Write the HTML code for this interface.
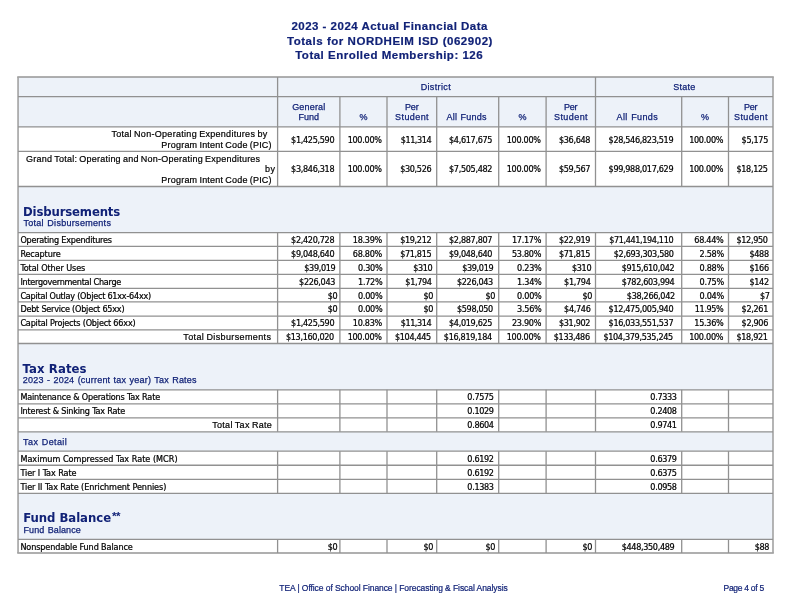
<!DOCTYPE html>
<html lang="en"><head><meta charset="utf-8"><title>2023 - 2024 Actual Financial Data - NORDHEIM ISD</title>
<style>
html,body{margin:0;padding:0;background:#fff;}
body{width:792px;height:612px;overflow:hidden;font-family:"Liberation Sans",sans-serif;}
svg{display:block;}
text{white-space:pre;}
.ttl{font:bold 11.5px "Liberation Sans",sans-serif;fill:#112277;stroke:#112277;stroke-width:0.2px;}
.hd{font:9px "Liberation Sans",sans-serif;fill:#112277;stroke:#112277;stroke-width:0.25px;}
.lb{font:9px "Liberation Sans",sans-serif;fill:#000;stroke:#000;stroke-width:0.2px;}
.sh{font:bold condensed 13px "DejaVu Sans Condensed","DejaVu Sans",sans-serif;fill:#112277;}
.dt{font:condensed 9px "DejaVu Sans Condensed","DejaVu Sans",sans-serif;fill:#000;stroke:#000;stroke-width:0.22px;}
.ast{font:bold 11.5px "Liberation Sans",sans-serif;fill:#112277;letter-spacing:-0.4px;}
.ft{font:8.5px "Liberation Sans",sans-serif;fill:#112277;stroke:#112277;stroke-width:0.2px;}
.ft2{font:8.5px "Liberation Sans",sans-serif;fill:#112277;stroke:#112277;stroke-width:0.2px;}
</style></head>
<body>
<svg width="792" height="612" viewBox="0 0 792 612">
<rect x="18.05" y="77.05" width="754.95" height="49.90" fill="#edf2f9"/>
<rect x="18.05" y="186.50" width="754.95" height="46.10" fill="#edf2f9"/>
<rect x="18.05" y="343.50" width="754.95" height="46.35" fill="#edf2f9"/>
<rect x="18.05" y="431.80" width="754.95" height="19.35" fill="#edf2f9"/>
<rect x="18.05" y="493.30" width="754.95" height="46.00" fill="#edf2f9"/>
<g stroke="#949494" fill="none">
<line x1="17.25" y1="77.05" x2="773.80" y2="77.05" stroke-width="1.6"/>
<line x1="17.25" y1="553.00" x2="773.80" y2="553.00" stroke-width="1.6"/>
</g>
<g stroke="#a2a2a2" fill="none">
<line x1="18.05" y1="77.05" x2="18.05" y2="553.00" stroke-width="1.6"/>
<line x1="773.00" y1="77.05" x2="773.00" y2="553.00" stroke-width="1.6"/>
</g>
<g stroke="#919191" fill="none">
<line x1="18.05" y1="96.70" x2="773.00" y2="96.70" stroke-width="1.3"/>
<line x1="18.05" y1="126.95" x2="773.00" y2="126.95" stroke-width="1.3"/>
<line x1="277.60" y1="77.05" x2="277.60" y2="96.70" stroke-width="1.3"/>
<line x1="595.50" y1="77.05" x2="595.50" y2="96.70" stroke-width="1.3"/>
<line x1="277.60" y1="96.70" x2="277.60" y2="186.50" stroke-width="1.3"/>
<line x1="339.90" y1="96.70" x2="339.90" y2="186.50" stroke-width="1.3"/>
<line x1="387.00" y1="96.70" x2="387.00" y2="186.50" stroke-width="1.3"/>
<line x1="436.70" y1="96.70" x2="436.70" y2="186.50" stroke-width="1.3"/>
<line x1="498.70" y1="96.70" x2="498.70" y2="186.50" stroke-width="1.3"/>
<line x1="546.10" y1="96.70" x2="546.10" y2="186.50" stroke-width="1.3"/>
<line x1="595.50" y1="96.70" x2="595.50" y2="186.50" stroke-width="1.3"/>
<line x1="681.70" y1="96.70" x2="681.70" y2="186.50" stroke-width="1.3"/>
<line x1="728.50" y1="96.70" x2="728.50" y2="186.50" stroke-width="1.3"/>
<line x1="18.05" y1="151.45" x2="773.00" y2="151.45" stroke-width="1.3"/>
<line x1="18.05" y1="186.50" x2="773.00" y2="186.50" stroke-width="1.3"/>
<line x1="18.05" y1="232.60" x2="773.00" y2="232.60" stroke-width="1.3"/>
<line x1="18.05" y1="246.40" x2="773.00" y2="246.40" stroke-width="1.3"/>
<line x1="18.05" y1="260.35" x2="773.00" y2="260.35" stroke-width="1.3"/>
<line x1="18.05" y1="274.45" x2="773.00" y2="274.45" stroke-width="1.3"/>
<line x1="18.05" y1="288.35" x2="773.00" y2="288.35" stroke-width="1.3"/>
<line x1="18.05" y1="301.90" x2="773.00" y2="301.90" stroke-width="1.3"/>
<line x1="18.05" y1="316.10" x2="773.00" y2="316.10" stroke-width="1.3"/>
<line x1="18.05" y1="329.80" x2="773.00" y2="329.80" stroke-width="1.3"/>
<line x1="18.05" y1="343.50" x2="773.00" y2="343.50" stroke-width="1.3"/>
<line x1="277.60" y1="232.60" x2="277.60" y2="343.50" stroke-width="1.3"/>
<line x1="339.90" y1="232.60" x2="339.90" y2="343.50" stroke-width="1.3"/>
<line x1="387.00" y1="232.60" x2="387.00" y2="343.50" stroke-width="1.3"/>
<line x1="436.70" y1="232.60" x2="436.70" y2="343.50" stroke-width="1.3"/>
<line x1="498.70" y1="232.60" x2="498.70" y2="343.50" stroke-width="1.3"/>
<line x1="546.10" y1="232.60" x2="546.10" y2="343.50" stroke-width="1.3"/>
<line x1="595.50" y1="232.60" x2="595.50" y2="343.50" stroke-width="1.3"/>
<line x1="681.70" y1="232.60" x2="681.70" y2="343.50" stroke-width="1.3"/>
<line x1="728.50" y1="232.60" x2="728.50" y2="343.50" stroke-width="1.3"/>
<line x1="18.05" y1="389.85" x2="773.00" y2="389.85" stroke-width="1.3"/>
<line x1="18.05" y1="403.95" x2="773.00" y2="403.95" stroke-width="1.3"/>
<line x1="18.05" y1="417.80" x2="773.00" y2="417.80" stroke-width="1.3"/>
<line x1="18.05" y1="431.80" x2="773.00" y2="431.80" stroke-width="1.3"/>
<line x1="277.60" y1="389.85" x2="277.60" y2="431.80" stroke-width="1.3"/>
<line x1="339.90" y1="389.85" x2="339.90" y2="431.80" stroke-width="1.3"/>
<line x1="387.00" y1="389.85" x2="387.00" y2="431.80" stroke-width="1.3"/>
<line x1="436.70" y1="389.85" x2="436.70" y2="431.80" stroke-width="1.3"/>
<line x1="498.70" y1="389.85" x2="498.70" y2="431.80" stroke-width="1.3"/>
<line x1="546.10" y1="389.85" x2="546.10" y2="431.80" stroke-width="1.3"/>
<line x1="595.50" y1="389.85" x2="595.50" y2="431.80" stroke-width="1.3"/>
<line x1="681.70" y1="389.85" x2="681.70" y2="431.80" stroke-width="1.3"/>
<line x1="728.50" y1="389.85" x2="728.50" y2="431.80" stroke-width="1.3"/>
<line x1="18.05" y1="451.15" x2="773.00" y2="451.15" stroke-width="1.3"/>
<line x1="18.05" y1="465.25" x2="773.00" y2="465.25" stroke-width="1.3"/>
<line x1="18.05" y1="479.30" x2="773.00" y2="479.30" stroke-width="1.3"/>
<line x1="18.05" y1="493.30" x2="773.00" y2="493.30" stroke-width="1.3"/>
<line x1="277.60" y1="451.15" x2="277.60" y2="493.30" stroke-width="1.3"/>
<line x1="339.90" y1="451.15" x2="339.90" y2="493.30" stroke-width="1.3"/>
<line x1="387.00" y1="451.15" x2="387.00" y2="493.30" stroke-width="1.3"/>
<line x1="436.70" y1="451.15" x2="436.70" y2="493.30" stroke-width="1.3"/>
<line x1="498.70" y1="451.15" x2="498.70" y2="493.30" stroke-width="1.3"/>
<line x1="546.10" y1="451.15" x2="546.10" y2="493.30" stroke-width="1.3"/>
<line x1="595.50" y1="451.15" x2="595.50" y2="493.30" stroke-width="1.3"/>
<line x1="681.70" y1="451.15" x2="681.70" y2="493.30" stroke-width="1.3"/>
<line x1="728.50" y1="451.15" x2="728.50" y2="493.30" stroke-width="1.3"/>
<line x1="18.05" y1="539.30" x2="773.00" y2="539.30" stroke-width="1.3"/>
<line x1="277.60" y1="539.30" x2="277.60" y2="553.00" stroke-width="1.3"/>
<line x1="339.90" y1="539.30" x2="339.90" y2="553.00" stroke-width="1.3"/>
<line x1="387.00" y1="539.30" x2="387.00" y2="553.00" stroke-width="1.3"/>
<line x1="436.70" y1="539.30" x2="436.70" y2="553.00" stroke-width="1.3"/>
<line x1="498.70" y1="539.30" x2="498.70" y2="553.00" stroke-width="1.3"/>
<line x1="546.10" y1="539.30" x2="546.10" y2="553.00" stroke-width="1.3"/>
<line x1="595.50" y1="539.30" x2="595.50" y2="553.00" stroke-width="1.3"/>
<line x1="681.70" y1="539.30" x2="681.70" y2="553.00" stroke-width="1.3"/>
<line x1="728.50" y1="539.30" x2="728.50" y2="553.00" stroke-width="1.3"/>
</g>
<text class="ttl" x="291.40" y="29.80" style="letter-spacing:0.488px">2023 - 2024 Actual Financial Data</text>
<text class="ttl" x="287.00" y="44.80" style="letter-spacing:0.531px">Totals for NORDHEIM ISD (062902)</text>
<text class="ttl" x="295.20" y="58.70" style="letter-spacing:0.498px">Total Enrolled Membership: 126</text>
<text class="hd" x="435.83" y="89.60" text-anchor="middle" style="letter-spacing:0.357px">District</text>
<text class="hd" x="684.39" y="89.60" text-anchor="middle" style="letter-spacing:0.270px">State</text>
<text class="hd" x="308.84" y="109.80" text-anchor="middle" style="letter-spacing:0.183px">General</text>
<text class="hd" x="308.74" y="119.70" text-anchor="middle" style="letter-spacing:-0.010px">Fund</text>
<text class="hd" x="363.46" y="119.70" text-anchor="middle" style="letter-spacing:0.027px">%</text>
<text class="hd" x="411.76" y="109.80" text-anchor="middle" style="letter-spacing:-0.179px">Per</text>
<text class="hd" x="412.06" y="119.70" text-anchor="middle" style="letter-spacing:0.419px">Student</text>
<text class="hd" x="446.60" y="119.70" style="letter-spacing:0.215px;word-spacing:0.6px">All Funds</text>
<text class="hd" x="522.41" y="119.70" text-anchor="middle" style="letter-spacing:0.027px">%</text>
<text class="hd" x="570.71" y="109.80" text-anchor="middle" style="letter-spacing:-0.179px">Per</text>
<text class="hd" x="571.01" y="119.70" text-anchor="middle" style="letter-spacing:0.419px">Student</text>
<text class="hd" x="616.50" y="119.70" style="letter-spacing:0.390px;word-spacing:0.6px">All Funds</text>
<text class="hd" x="705.11" y="119.70" text-anchor="middle" style="letter-spacing:0.027px">%</text>
<text class="hd" x="750.66" y="109.80" text-anchor="middle" style="letter-spacing:-0.179px">Per</text>
<text class="hd" x="750.96" y="119.70" text-anchor="middle" style="letter-spacing:0.419px">Student</text>
<text class="lb" x="267.49" y="136.90" text-anchor="end" style="letter-spacing:0.294px;word-spacing:-0.6px">Total Non-Operating Expenditures by</text>
<text class="lb" x="271.81" y="147.50" text-anchor="end" style="letter-spacing:0.208px;word-spacing:-0.6px">Program Intent Code (PIC)</text>
<text class="dt" x="334.28" y="143.00" text-anchor="end" style="letter-spacing:-0.320px">$1,425,590</text>
<text class="dt" x="381.66" y="143.00" text-anchor="end" style="letter-spacing:-0.284px">100.00%</text>
<text class="dt" x="431.22" y="143.00" text-anchor="end" style="letter-spacing:-0.422px">$11,314</text>
<text class="dt" x="492.18" y="143.00" text-anchor="end" style="letter-spacing:-0.320px">$4,617,675</text>
<text class="dt" x="540.76" y="143.00" text-anchor="end" style="letter-spacing:-0.284px">100.00%</text>
<text class="dt" x="590.11" y="143.00" text-anchor="end" style="letter-spacing:-0.331px">$36,648</text>
<text class="dt" x="673.28" y="143.00" text-anchor="end" style="letter-spacing:-0.320px">$28,546,823,519</text>
<text class="dt" x="723.16" y="143.00" text-anchor="end" style="letter-spacing:-0.284px">100.00%</text>
<text class="dt" x="767.99" y="143.00" text-anchor="end" style="letter-spacing:-0.326px">$5,175</text>
<text class="lb" x="260.33" y="161.60" text-anchor="end" style="letter-spacing:0.232px;word-spacing:-0.6px">Grand Total: Operating and Non-Operating Expenditures</text>
<text class="lb" x="275.33" y="171.60" text-anchor="end" style="letter-spacing:0.430px">by</text>
<text class="lb" x="271.81" y="182.60" text-anchor="end" style="letter-spacing:0.208px;word-spacing:-0.6px">Program Intent Code (PIC)</text>
<text class="dt" x="334.28" y="171.50" text-anchor="end" style="letter-spacing:-0.320px">$3,846,318</text>
<text class="dt" x="381.66" y="171.50" text-anchor="end" style="letter-spacing:-0.284px">100.00%</text>
<text class="dt" x="431.31" y="171.50" text-anchor="end" style="letter-spacing:-0.331px">$30,526</text>
<text class="dt" x="492.18" y="171.50" text-anchor="end" style="letter-spacing:-0.320px">$7,505,482</text>
<text class="dt" x="540.76" y="171.50" text-anchor="end" style="letter-spacing:-0.284px">100.00%</text>
<text class="dt" x="590.11" y="171.50" text-anchor="end" style="letter-spacing:-0.331px">$59,567</text>
<text class="dt" x="673.28" y="171.50" text-anchor="end" style="letter-spacing:-0.320px">$99,988,017,629</text>
<text class="dt" x="723.16" y="171.50" text-anchor="end" style="letter-spacing:-0.284px">100.00%</text>
<text class="dt" x="767.61" y="171.50" text-anchor="end" style="letter-spacing:-0.331px">$18,125</text>
<text class="sh" x="23.00" y="215.60" style="letter-spacing:-0.148px">Disbursements</text>
<text class="hd" x="23.40" y="226.40" style="letter-spacing:0.300px;word-spacing:0.6px">Total Disbursements</text>
<text class="sh" x="22.60" y="372.60" style="letter-spacing:0.099px">Tax Rates</text>
<text class="hd" x="22.80" y="383.40" style="letter-spacing:0.208px;word-spacing:0.6px">2023 - 2024 (current tax year) Tax Rates</text>
<text class="sh" x="23.20" y="522.40" style="letter-spacing:-0.041px">Fund Balance</text>
<text class="hd" x="23.50" y="533.20" style="letter-spacing:0.109px;word-spacing:0.6px">Fund Balance</text>
<text class="ast" x="112.0" y="519.90">**</text>
<text class="hd" x="23.10" y="444.80" style="letter-spacing:0.392px;word-spacing:0.6px">Tax Detail</text>
<text class="dt" x="20.40" y="242.75" style="letter-spacing:-0.220px">Operating Expenditures</text>
<text class="dt" x="334.28" y="242.75" text-anchor="end" style="letter-spacing:-0.320px">$2,420,728</text>
<text class="dt" x="382.05" y="242.75" text-anchor="end" style="letter-spacing:-0.272px">18.39%</text>
<text class="dt" x="431.31" y="242.75" text-anchor="end" style="letter-spacing:-0.331px">$19,212</text>
<text class="dt" x="492.18" y="242.75" text-anchor="end" style="letter-spacing:-0.320px">$2,887,807</text>
<text class="dt" x="541.15" y="242.75" text-anchor="end" style="letter-spacing:-0.272px">17.17%</text>
<text class="dt" x="590.11" y="242.75" text-anchor="end" style="letter-spacing:-0.331px">$22,919</text>
<text class="dt" x="673.24" y="242.75" text-anchor="end" style="letter-spacing:-0.363px">$71,441,194,110</text>
<text class="dt" x="723.55" y="242.75" text-anchor="end" style="letter-spacing:-0.272px">68.44%</text>
<text class="dt" x="767.61" y="242.75" text-anchor="end" style="letter-spacing:-0.331px">$12,950</text>
<text class="dt" x="20.40" y="256.80" style="letter-spacing:-0.115px">Recapture</text>
<text class="dt" x="334.28" y="256.80" text-anchor="end" style="letter-spacing:-0.320px">$9,048,640</text>
<text class="dt" x="382.05" y="256.80" text-anchor="end" style="letter-spacing:-0.272px">68.80%</text>
<text class="dt" x="431.31" y="256.80" text-anchor="end" style="letter-spacing:-0.331px">$71,815</text>
<text class="dt" x="492.18" y="256.80" text-anchor="end" style="letter-spacing:-0.320px">$9,048,640</text>
<text class="dt" x="541.15" y="256.80" text-anchor="end" style="letter-spacing:-0.272px">53.80%</text>
<text class="dt" x="590.11" y="256.80" text-anchor="end" style="letter-spacing:-0.331px">$71,815</text>
<text class="dt" x="673.66" y="256.80" text-anchor="end" style="letter-spacing:-0.318px">$2,693,303,580</text>
<text class="dt" x="723.94" y="256.80" text-anchor="end" style="letter-spacing:-0.255px">2.58%</text>
<text class="dt" x="768.72" y="256.80" text-anchor="end" style="letter-spacing:-0.356px">$488</text>
<text class="dt" x="20.40" y="270.85" style="letter-spacing:-0.090px">Total Other Uses</text>
<text class="dt" x="335.41" y="270.85" text-anchor="end" style="letter-spacing:-0.331px">$39,019</text>
<text class="dt" x="382.44" y="270.85" text-anchor="end" style="letter-spacing:-0.255px">0.30%</text>
<text class="dt" x="432.42" y="270.85" text-anchor="end" style="letter-spacing:-0.356px">$310</text>
<text class="dt" x="493.31" y="270.85" text-anchor="end" style="letter-spacing:-0.331px">$39,019</text>
<text class="dt" x="541.54" y="270.85" text-anchor="end" style="letter-spacing:-0.255px">0.23%</text>
<text class="dt" x="591.22" y="270.85" text-anchor="end" style="letter-spacing:-0.356px">$310</text>
<text class="dt" x="674.41" y="270.85" text-anchor="end" style="letter-spacing:-0.326px">$915,610,042</text>
<text class="dt" x="723.94" y="270.85" text-anchor="end" style="letter-spacing:-0.255px">0.88%</text>
<text class="dt" x="768.72" y="270.85" text-anchor="end" style="letter-spacing:-0.356px">$166</text>
<text class="dt" x="20.40" y="284.90" style="letter-spacing:-0.264px">Intergovernmental Charge</text>
<text class="dt" x="335.03" y="284.90" text-anchor="end" style="letter-spacing:-0.334px">$226,043</text>
<text class="dt" x="382.44" y="284.90" text-anchor="end" style="letter-spacing:-0.255px">1.72%</text>
<text class="dt" x="431.69" y="284.90" text-anchor="end" style="letter-spacing:-0.326px">$1,794</text>
<text class="dt" x="492.93" y="284.90" text-anchor="end" style="letter-spacing:-0.334px">$226,043</text>
<text class="dt" x="541.54" y="284.90" text-anchor="end" style="letter-spacing:-0.255px">1.34%</text>
<text class="dt" x="590.49" y="284.90" text-anchor="end" style="letter-spacing:-0.326px">$1,794</text>
<text class="dt" x="674.41" y="284.90" text-anchor="end" style="letter-spacing:-0.326px">$782,603,994</text>
<text class="dt" x="723.94" y="284.90" text-anchor="end" style="letter-spacing:-0.255px">0.75%</text>
<text class="dt" x="768.72" y="284.90" text-anchor="end" style="letter-spacing:-0.356px">$142</text>
<text class="dt" x="20.40" y="298.80" style="letter-spacing:-0.229px">Capital Outlay (Object 61xx-64xx)</text>
<text class="dt" x="337.28" y="298.80" text-anchor="end" style="letter-spacing:-0.356px">$0</text>
<text class="dt" x="382.44" y="298.80" text-anchor="end" style="letter-spacing:-0.255px">0.00%</text>
<text class="dt" x="433.18" y="298.80" text-anchor="end" style="letter-spacing:-0.356px">$0</text>
<text class="dt" x="495.18" y="298.80" text-anchor="end" style="letter-spacing:-0.356px">$0</text>
<text class="dt" x="541.54" y="298.80" text-anchor="end" style="letter-spacing:-0.255px">0.00%</text>
<text class="dt" x="591.98" y="298.80" text-anchor="end" style="letter-spacing:-0.356px">$0</text>
<text class="dt" x="674.80" y="298.80" text-anchor="end" style="letter-spacing:-0.324px">$38,266,042</text>
<text class="dt" x="723.94" y="298.80" text-anchor="end" style="letter-spacing:-0.255px">0.04%</text>
<text class="dt" x="769.48" y="298.80" text-anchor="end" style="letter-spacing:-0.356px">$7</text>
<text class="dt" x="20.40" y="312.10" style="letter-spacing:-0.223px">Debt Service (Object 65xx)</text>
<text class="dt" x="337.28" y="312.10" text-anchor="end" style="letter-spacing:-0.356px">$0</text>
<text class="dt" x="382.44" y="312.10" text-anchor="end" style="letter-spacing:-0.255px">0.00%</text>
<text class="dt" x="433.18" y="312.10" text-anchor="end" style="letter-spacing:-0.356px">$0</text>
<text class="dt" x="492.93" y="312.10" text-anchor="end" style="letter-spacing:-0.334px">$598,050</text>
<text class="dt" x="541.54" y="312.10" text-anchor="end" style="letter-spacing:-0.255px">3.56%</text>
<text class="dt" x="590.49" y="312.10" text-anchor="end" style="letter-spacing:-0.326px">$4,746</text>
<text class="dt" x="673.28" y="312.10" text-anchor="end" style="letter-spacing:-0.320px">$12,475,005,940</text>
<text class="dt" x="723.44" y="312.10" text-anchor="end" style="letter-spacing:-0.379px">11.95%</text>
<text class="dt" x="767.99" y="312.10" text-anchor="end" style="letter-spacing:-0.326px">$2,261</text>
<text class="dt" x="20.40" y="325.90" style="letter-spacing:-0.183px">Capital Projects (Object 66xx)</text>
<text class="dt" x="334.28" y="325.90" text-anchor="end" style="letter-spacing:-0.320px">$1,425,590</text>
<text class="dt" x="382.05" y="325.90" text-anchor="end" style="letter-spacing:-0.272px">10.83%</text>
<text class="dt" x="431.22" y="325.90" text-anchor="end" style="letter-spacing:-0.422px">$11,314</text>
<text class="dt" x="492.18" y="325.90" text-anchor="end" style="letter-spacing:-0.320px">$4,019,625</text>
<text class="dt" x="541.15" y="325.90" text-anchor="end" style="letter-spacing:-0.272px">23.90%</text>
<text class="dt" x="590.11" y="325.90" text-anchor="end" style="letter-spacing:-0.331px">$31,902</text>
<text class="dt" x="673.28" y="325.90" text-anchor="end" style="letter-spacing:-0.320px">$16,033,551,537</text>
<text class="dt" x="723.55" y="325.90" text-anchor="end" style="letter-spacing:-0.272px">15.36%</text>
<text class="dt" x="767.99" y="325.90" text-anchor="end" style="letter-spacing:-0.326px">$2,906</text>
<text class="lb" x="271.38" y="339.75" text-anchor="end" style="letter-spacing:0.378px;word-spacing:-0.6px">Total Disbursements</text>
<text class="dt" x="333.90" y="339.75" text-anchor="end" style="letter-spacing:-0.324px">$13,160,020</text>
<text class="dt" x="381.66" y="339.75" text-anchor="end" style="letter-spacing:-0.284px">100.00%</text>
<text class="dt" x="430.93" y="339.75" text-anchor="end" style="letter-spacing:-0.334px">$104,445</text>
<text class="dt" x="491.80" y="339.75" text-anchor="end" style="letter-spacing:-0.324px">$16,819,184</text>
<text class="dt" x="540.76" y="339.75" text-anchor="end" style="letter-spacing:-0.284px">100.00%</text>
<text class="dt" x="589.73" y="339.75" text-anchor="end" style="letter-spacing:-0.334px">$133,486</text>
<text class="dt" x="672.90" y="339.75" text-anchor="end" style="letter-spacing:-0.322px">$104,379,535,245</text>
<text class="dt" x="723.16" y="339.75" text-anchor="end" style="letter-spacing:-0.284px">100.00%</text>
<text class="dt" x="767.61" y="339.75" text-anchor="end" style="letter-spacing:-0.331px">$18,921</text>
<text class="dt" x="20.40" y="400.00" style="letter-spacing:-0.164px">Maintenance &amp; Operations Tax Rate</text>
<text class="dt" x="493.69" y="400.00" text-anchor="end" style="letter-spacing:-0.326px">0.7575</text>
<text class="dt" x="676.69" y="400.00" text-anchor="end" style="letter-spacing:-0.326px">0.7333</text>
<text class="dt" x="20.40" y="413.85" style="letter-spacing:-0.166px">Interest &amp; Sinking Tax Rate</text>
<text class="dt" x="493.69" y="413.85" text-anchor="end" style="letter-spacing:-0.326px">0.1029</text>
<text class="dt" x="676.69" y="413.85" text-anchor="end" style="letter-spacing:-0.326px">0.2408</text>
<text class="lb" x="272.21" y="427.90" text-anchor="end" style="letter-spacing:0.313px;word-spacing:-0.6px">Total Tax Rate</text>
<text class="dt" x="493.69" y="427.90" text-anchor="end" style="letter-spacing:-0.326px">0.8604</text>
<text class="dt" x="676.69" y="427.90" text-anchor="end" style="letter-spacing:-0.326px">0.9741</text>
<text class="dt" x="20.40" y="461.70" style="letter-spacing:0.010px">Maximum Compressed Tax Rate (MCR)</text>
<text class="dt" x="493.69" y="461.70" text-anchor="end" style="letter-spacing:-0.326px">0.6192</text>
<text class="dt" x="676.69" y="461.70" text-anchor="end" style="letter-spacing:-0.326px">0.6379</text>
<text class="dt" x="20.40" y="475.65" style="letter-spacing:-0.066px">Tier I Tax Rate</text>
<text class="dt" x="493.69" y="475.65" text-anchor="end" style="letter-spacing:-0.326px">0.6192</text>
<text class="dt" x="676.69" y="475.65" text-anchor="end" style="letter-spacing:-0.326px">0.6375</text>
<text class="dt" x="20.40" y="489.60" style="letter-spacing:-0.079px">Tier II Tax Rate (Enrichment Pennies)</text>
<text class="dt" x="493.69" y="489.60" text-anchor="end" style="letter-spacing:-0.326px">0.1383</text>
<text class="dt" x="676.69" y="489.60" text-anchor="end" style="letter-spacing:-0.326px">0.0958</text>
<text class="dt" x="20.40" y="549.70" style="letter-spacing:-0.116px">Nonspendable Fund Balance</text>
<text class="dt" x="337.28" y="549.70" text-anchor="end" style="letter-spacing:-0.356px">$0</text>
<text class="dt" x="433.18" y="549.70" text-anchor="end" style="letter-spacing:-0.356px">$0</text>
<text class="dt" x="495.18" y="549.70" text-anchor="end" style="letter-spacing:-0.356px">$0</text>
<text class="dt" x="591.98" y="549.70" text-anchor="end" style="letter-spacing:-0.356px">$0</text>
<text class="dt" x="674.41" y="549.70" text-anchor="end" style="letter-spacing:-0.326px">$448,350,489</text>
<text class="dt" x="769.10" y="549.70" text-anchor="end" style="letter-spacing:-0.356px">$88</text>
<text class="ft" x="279.30" y="590.70" style="letter-spacing:-0.074px">TEA | Office of School Finance | Forecasting &amp; Fiscal Analysis</text>
<text class="ft2" x="723.50" y="590.60" style="letter-spacing:-0.277px">Page 4 of 5</text>
</svg>
</body></html>
